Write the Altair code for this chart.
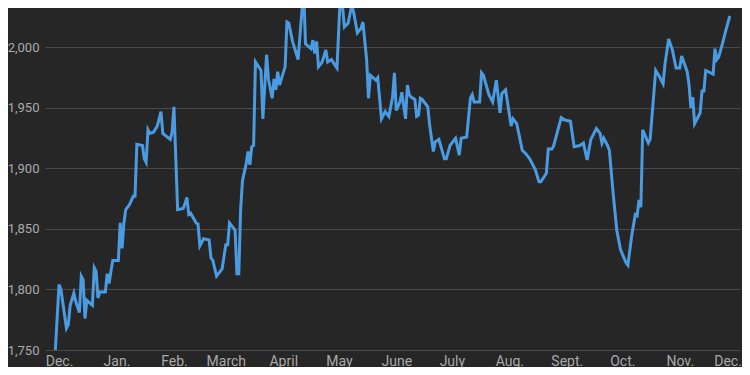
import altair as alt
import pandas as pd

dates = [
    "2022-11-29", "2022-12-01", "2022-12-02", "2022-12-05", "2022-12-06", "2022-12-07", "2022-12-09", "2022-12-10",
    "2022-12-12", "2022-12-13", "2022-12-14", "2022-12-15", "2022-12-16", "2022-12-19", "2022-12-20", "2022-12-21",
    "2022-12-22", "2022-12-23", "2022-12-26", "2022-12-27", "2022-12-28", "2022-12-29", "2022-12-30",
    "2023-01-02", "2023-01-03", "2023-01-04", "2023-01-05", "2023-01-06", "2023-01-08", "2023-01-10", "2023-01-11",
    "2023-01-12", "2023-01-15", "2023-01-16", "2023-01-17", "2023-01-18", "2023-01-19", "2023-01-21", "2023-01-23",
    "2023-01-25", "2023-01-26", "2023-01-30", "2023-01-31",
    "2023-02-01", "2023-02-03", "2023-02-06", "2023-02-07", "2023-02-08", "2023-02-09", "2023-02-10", "2023-02-13",
    "2023-02-14", "2023-02-15", "2023-02-17", "2023-02-20", "2023-02-21", "2023-02-22", "2023-02-24", "2023-02-27",
    "2023-03-01", "2023-03-02", "2023-03-03", "2023-03-06", "2023-03-07", "2023-03-08", "2023-03-09", "2023-03-10",
    "2023-03-12", "2023-03-13", "2023-03-14", "2023-03-15", "2023-03-16", "2023-03-17", "2023-03-20", "2023-03-21",
    "2023-03-23", "2023-03-24", "2023-03-26", "2023-03-27", "2023-03-28", "2023-03-29", "2023-03-30", "2023-03-31",
    "2023-04-02", "2023-04-03", "2023-04-04", "2023-04-06", "2023-04-09", "2023-04-12", "2023-04-13", "2023-04-16",
    "2023-04-17", "2023-04-18", "2023-04-19", "2023-04-20", "2023-04-22", "2023-04-24", "2023-04-25", "2023-04-27",
    "2023-04-30",
    "2023-05-02", "2023-05-04", "2023-05-06", "2023-05-08", "2023-05-09", "2023-05-11", "2023-05-13", "2023-05-14",
    "2023-05-16", "2023-05-17", "2023-05-18", "2023-05-21", "2023-05-22", "2023-05-24", "2023-05-26", "2023-05-28",
    "2023-05-30", "2023-05-31",
    "2023-06-01", "2023-06-03", "2023-06-04", "2023-06-06", "2023-06-07", "2023-06-08", "2023-06-09", "2023-06-11",
    "2023-06-12", "2023-06-13", "2023-06-14", "2023-06-15", "2023-06-18", "2023-06-19", "2023-06-21", "2023-06-22",
    "2023-06-24", "2023-06-27", "2023-06-28", "2023-06-30",
    "2023-07-03", "2023-07-05", "2023-07-06", "2023-07-09", "2023-07-11", "2023-07-12", "2023-07-13", "2023-07-16",
    "2023-07-17", "2023-07-18", "2023-07-21", "2023-07-23", "2023-07-25", "2023-07-27", "2023-07-28", "2023-07-30",
    "2023-08-02", "2023-08-03", "2023-08-05", "2023-08-08", "2023-08-10", "2023-08-12", "2023-08-15", "2023-08-17",
    "2023-08-18", "2023-08-21", "2023-08-22", "2023-08-24", "2023-08-25", "2023-08-29", "2023-08-31",
    "2023-09-03", "2023-09-05", "2023-09-08", "2023-09-10", "2023-09-12", "2023-09-14", "2023-09-17", "2023-09-19",
    "2023-09-20", "2023-09-21", "2023-09-23", "2023-09-24", "2023-09-26", "2023-09-28", "2023-09-30",
    "2023-10-03", "2023-10-04", "2023-10-06", "2023-10-08", "2023-10-09", "2023-10-10", "2023-10-11", "2023-10-12",
    "2023-10-15", "2023-10-16", "2023-10-19", "2023-10-21", "2023-10-23", "2023-10-24", "2023-10-26", "2023-10-28",
    "2023-10-30",
    "2023-11-01", "2023-11-02", "2023-11-05", "2023-11-06", "2023-11-07", "2023-11-08", "2023-11-09", "2023-11-12",
    "2023-11-13", "2023-11-14", "2023-11-15", "2023-11-19", "2023-11-20", "2023-11-21", "2023-11-22", "2023-11-24",
    "2023-11-26", "2023-11-28",
]

prices = [
    1750, 1804, 1800, 1768, 1771, 1787, 1797, 1790, 1781, 1811, 1808, 1776, 1791, 1787, 1818, 1815,
    1793, 1798, 1798, 1813, 1805, 1815, 1824,
    1824, 1855, 1834, 1855, 1866, 1870, 1877, 1877, 1920, 1919, 1908, 1905, 1932, 1929, 1930, 1935,
    1947, 1929, 1924, 1930,
    1951, 1866, 1867, 1871, 1876, 1862, 1863, 1855, 1854, 1836, 1842, 1841, 1826, 1824, 1811, 1817,
    1837, 1837, 1855, 1849, 1813, 1813, 1866, 1890, 1904, 1914, 1903, 1918, 1919, 1988, 1981, 1941,
    1994, 1974, 1958, 1974, 1965, 1980, 1969, 1974,
    1984, 2021, 2020, 2005, 1990, 2048, 2003, 1999, 2006, 1995, 2005, 1984, 1988, 1998, 1988, 1990,
    1983,
    2050, 2017, 2020, 2035, 2029, 2012, 2016, 2021, 1990, 1958, 1977, 1973, 1975, 1941, 1947, 1943,
    1959, 1979,
    1948, 1955, 1963, 1941, 1969, 1961, 1959, 1957, 1943, 1944, 1958, 1957, 1951, 1936, 1914, 1922,
    1924, 1908, 1908, 1919,
    1925, 1911, 1925, 1926, 1958, 1961, 1955, 1955, 1979, 1977, 1961, 1955, 1973, 1946, 1962, 1965,
    1935, 1941, 1937, 1915, 1912, 1908, 1899, 1889, 1889, 1896, 1916, 1916, 1919, 1942, 1940,
    1939, 1918, 1919, 1921, 1907, 1924, 1933, 1929, 1921, 1925, 1919, 1915, 1880, 1849, 1833,
    1822, 1820, 1844, 1862, 1861, 1874, 1868, 1932, 1921, 1924, 1981, 1976, 1970, 1986, 2007, 1998,
    1983,
    1983, 1993, 1980, 1969, 1950, 1959, 1937, 1946, 1964, 1964, 1981, 1978, 1999, 1990, 1992, 2003,
    2015, 2026,
]

# x-axis tick labels: one per month start
tick_months = [(2022, 12), (2023, 1), (2023, 2), (2023, 3), (2023, 4), (2023, 5), (2023, 6),
               (2023, 7), (2023, 8), (2023, 9), (2023, 10), (2023, 11), (2023, 12)]
month_labels = ["Jan.", "Feb.", "March", "April", "May", "June", "July",
                "Aug.", "Sept.", "Oct.", "Nov.", "Dec."]
y_ticks = [1750, 1800, 1850, 1900, 1950, 2000]

df = pd.DataFrame({"date": dates, "price": prices})

label_array = "[" + ",".join("'" + m + "'" for m in month_labels) + "]"
last_tick_test = "utcyear(datum.value) == 2023 && utcmonth(datum.value) == 11"

x_axis = alt.Axis(
    values=[alt.DateTime(year=y, month=m, date=1, utc=True) for y, m in tick_months],
    labelExpr=label_array + "[utcmonth(datum.value)]",
    title=None, grid=False, ticks=False, domain=False,
    labelColor="#a9a9a9", labelFont="Roboto", labelFontSize=14,
    labelBaseline="alphabetic", labelPadding=15, labelFlush=False, labelOverlap=False,
    labelAlign={"condition": {"test": last_tick_test, "value": "right"}, "value": "center"},
    labelOffset={"condition": {"test": last_tick_test, "value": 6}, "value": 0},
)

y_axis = alt.Axis(
    values=y_ticks, format=",d", title=None, ticks=False, domain=False,
    grid=True, gridColor="#4a4a4a", gridWidth=1,
    labelColor="#a9a9a9", labelFont="Roboto", labelFontSize=13, labelPadding=6,
)

chart = (
    alt.Chart(df)
    .mark_line(color="#4a9be1", strokeWidth=3, clip=True)
    .encode(
        x=alt.X("date:T", axis=x_axis,
                scale=alt.Scale(domain=[alt.DateTime(year=2022, month=11, date=23, hours=10, utc=True),
                                        alt.DateTime(year=2023, month=12, date=3, hours=12, utc=True)])),
        y=alt.Y("price:Q", axis=y_axis,
                scale=alt.Scale(domain=[1750, 2032.6], nice=False, zero=False)),
    )
    .properties(
        width=695, height=342,
        autosize=alt.AutoSizeParams(type="none"),
        padding={"left": 37, "top": 0, "right": 2, "bottom": 17},
        background="#262626",
    )
    .configure_view(stroke=None)
)

chart.save("out.html", embed_options={"renderer": "svg", "actions": False})
